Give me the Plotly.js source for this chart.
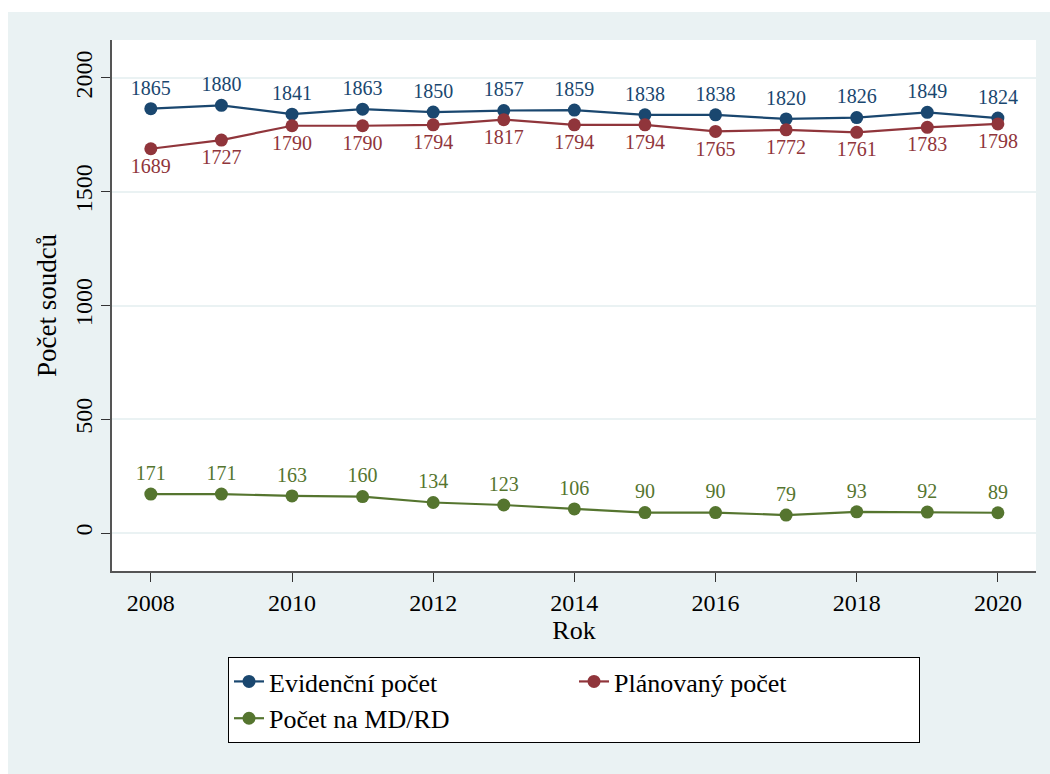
<!DOCTYPE html>
<html><head><meta charset="utf-8">
<script src="https://cdn.plot.ly/plotly-3.0.1.min.js"></script>
<style>
html,body{margin:0;padding:0;background:#ffffff;}
#chart{position:absolute;left:8px;top:12px;width:1042px;height:762px;}
</style></head>
<body><div id="chart"></div>
<script>
const years = [2008,2009,2010,2011,2012,2013,2014,2015,2016,2017,2018,2019,2020];
const evidencni = [1865,1880,1841,1863,1850,1857,1859,1838,1838,1820,1826,1849,1824];
const planovany = [1689,1727,1790,1790,1794,1817,1794,1794,1765,1772,1761,1783,1798];
const mdrd = [171,171,163,160,134,123,106,90,90,79,93,92,89];
const names = ["Evidenční počet","Plánovaný počet","Počet na MD/RD"];
const colors = ["#1a476f","#90353b","#55752f"];
const SERIF = 'Liberation Serif, Times New Roman, serif';

function tr(y, name, color, pos){
  return {x: years, y: y, name: name, type:'scatter', mode:'lines+markers+text',
    text: y.map(String), textposition: pos,
    textfont:{family:SERIF, size:20, color:color},
    line:{color:color, width:2.2}, marker:{color:color, size:13}};
}
const data = [
  tr(evidencni, names[0], colors[0], 'top center'),
  tr(planovany, names[1], colors[1], 'bottom center'),
  tr(mdrd, names[2], colors[2], 'top center')
];
const layout = {
  width:1042, height:762,
  paper_bgcolor:'#eaf2f3', plot_bgcolor:'#ffffff',
  margin:{l:104, r:14, t:28, b:203},
  font:{family:SERIF, size:20, color:'#000'},
  showlegend:true,
  xaxis:{range:[2007.45,2020.54], tickvals:[2008,2010,2012,2014,2016,2018,2020],
    showgrid:false, zeroline:false, showline:true, linecolor:'#555', linewidth:1.5,
    ticks:'outside', ticklen:9, tickcolor:'#333', tickfont:{family:SERIF, size:24},
    title:{text:'Rok', font:{family:SERIF, size:26}, standoff:0}},
  yaxis:{range:[-167,2167], tickvals:[0,500,1000,1500,2000],
    showgrid:true, gridcolor:'#eaf2f3', gridwidth:1.5, zeroline:false,
    showline:true, linecolor:'#555', linewidth:1.5,
    ticks:'outside', ticklen:9, tickcolor:'#333', tickfont:{family:SERIF, size:24}, tickangle:-90,
    title:{text:'Počet soudců', font:{family:SERIF, size:27}, standoff:6}},
  legend:{orientation:'h', x:0.5, xanchor:'center', y:-0.162, yanchor:'top',
    bgcolor:'#ffffff', bordercolor:'#000', borderwidth:1,
    entrywidth:300, entrywidthmode:'pixels', font:{family:SERIF, size:26, color:'#000'}, traceorder:'normal'}
};
Plotly.newPlot('chart', data, layout, {displayModeBar:false});
</script></body></html>
